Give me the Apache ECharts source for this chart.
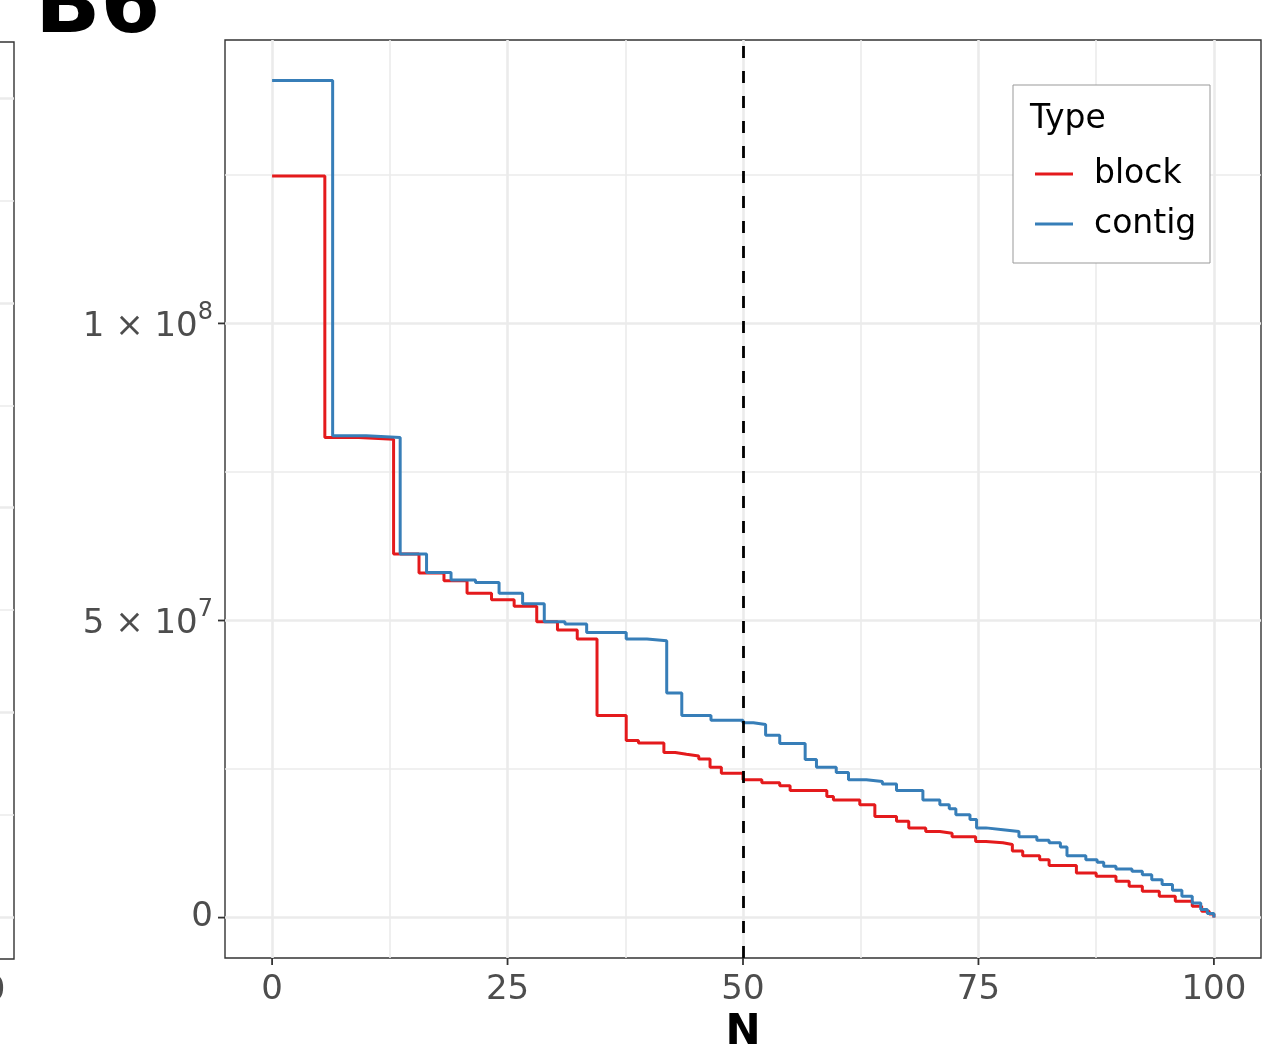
<!DOCTYPE html>
<html>
<head>
<meta charset="utf-8">
<script src="https://cdn.jsdelivr.net/npm/echarts@6/dist/echarts.min.js"></script>
<style>
  html, body { margin: 0; padding: 0; background: #ffffff; }
  #chart { width: 1285px; height: 1045px; }
</style>
</head>
<body>
<div id="chart"></div>
<script>
// Nx curves: each step starts at N (%) and holds the length (bp) until the next N
const blockN = [0, 5.6, 9.2, 12.9, 15.6, 18.25, 20.7, 23.3, 25.7, 28.1,
  30.3, 32.4, 34.5, 37.6, 38.9, 41.6, 42.8, 44.0, 45.3, 46.5,
  47.7, 50.0, 52.0, 53.9, 55.0, 58.9, 59.6, 62.4, 64.0, 66.3,
  67.6, 69.4, 70.9, 72.2, 74.7, 75.8, 77.6, 78.6, 79.7, 81.5,
  82.5, 85.4, 87.5, 89.6, 91.0, 92.4, 94.2, 95.9, 97.7, 98.7,
  99.5, 100];
const blockLen = [1.248e8, 8.08e7, 8.05e7, 6.12e7, 5.80e7, 5.67e7, 5.46e7, 5.35e7, 5.24e7, 4.98e7,
  4.84e7, 4.69e7, 3.40e7, 2.98e7, 2.94e7, 2.78e7, 2.75e7, 2.72e7, 2.67e7, 2.53e7,
  2.43e7, 2.32e7, 2.27e7, 2.22e7, 2.14e7, 2.04e7, 1.98e7, 1.90e7, 1.70e7, 1.62e7,
  1.51e7, 1.45e7, 1.42e7, 1.36e7, 1.28e7, 1.26e7, 1.23e7, 1.12e7, 1.04e7, 9.75e6,
  8.75e6, 7.52e6, 6.95e6, 6.10e6, 5.26e6, 4.42e6, 3.58e6, 2.74e6, 1.90e6, 1.06e6,
  0.59e6, 0];

const contigN = [0, 6.43, 10.0, 13.6, 16.4, 19.0, 21.6, 24.1, 26.6, 28.9,
  31.1, 33.4, 37.6, 39.8, 41.9, 43.5, 46.6, 50.0, 51.1, 52.4,
  53.9, 56.6, 57.8, 59.9, 61.2, 63.1, 64.8, 66.3, 69.1, 70.9,
  71.9, 72.6, 74.1, 74.8, 75.8, 77.6, 79.3, 81.2, 82.5, 83.7,
  84.4, 86.4, 87.6, 88.3, 89.6, 91.3, 92.4, 93.4, 94.5, 95.6,
  96.6, 97.7, 98.6, 99.3, 100];
const contigLen = [1.409e8, 8.11e7, 8.08e7, 6.12e7, 5.81e7, 5.68e7, 5.64e7, 5.46e7, 5.28e7, 4.98e7,
  4.94e7, 4.80e7, 4.69e7, 4.66e7, 3.78e7, 3.40e7, 3.32e7, 3.28e7, 3.25e7, 3.07e7,
  2.93e7, 2.66e7, 2.53e7, 2.44e7, 2.32e7, 2.29e7, 2.25e7, 2.14e7, 1.98e7, 1.90e7,
  1.83e7, 1.73e7, 1.65e7, 1.51e7, 1.48e7, 1.45e7, 1.36e7, 1.30e7, 1.26e7, 1.19e7,
  1.04e7, 9.75e6, 9.30e6, 8.63e6, 8.19e6, 7.79e6, 7.23e6, 6.39e6, 5.55e6, 4.59e6,
  3.58e6, 2.47e6, 1.35e6, 0.67e6, 0];

const seriesNames = ['block', 'contig'];
const seriesColors = ['#e41a1c', '#377eb8'];
const cutoffN = [50];

// axis ranges and breaks
const xRange = [-5, 105];
const yRange = [-6.8e6, 1.477e8];
const xTicks = [0, 25, 50, 75, 100];
const xMinor = [12.5, 37.5, 62.5, 87.5];
const yTicks = [0, 5e7, 1e8];
const yMinor = [2.5e7, 7.5e7, 1.25e8];

// neighbouring panel (only its right edge is on the page)
const sideXTicks = [0, 25, 50, 75, 100];
const sideYMajor = [0, 2, 4, 6, 8];
const sideYMinor = [1, 3, 5, 7];

const panelTag = 'B6';
const xTitle = 'N';
const legendTitle = 'Type';

const FONT = 'DejaVu Sans';
const GRID_COLOR = '#ebebeb';
const TICK_COLOR = '#333333';
const TICK_LEN = 7;

function zip(xs, ys) { return xs.map((x, i) => [x, ys[i]]); }

// 1 × 10^8 style tick labels
function sciLabel(v) {
  if (v === 0) return '0';
  const e = Math.floor(Math.log10(v) + 1e-9);
  const m = Math.round(v / Math.pow(10, e));
  return '{b|' + m + ' \u00d7 10}{s|' + e + '}';
}

function gridLines(key, major, minor) {
  return major.map(v => ({ [key]: v, lineStyle: { width: 2.6 } }))
    .concat(minor.map(v => ({ [key]: v, lineStyle: { width: 1.6 } })));
}

function gridMarkLine(data) {
  return {
    silent: true, z: 1, animation: false,
    symbol: ['none', 'none'],
    label: { show: false },
    emphasis: { disabled: true },
    lineStyle: { color: GRID_COLOR, type: 'solid' },
    data: data
  };
}

// outward tick marks, positioned through the axis scales
function tickSeries(values, vertical) {
  return {
    type: 'custom', xAxisIndex: 0, yAxisIndex: 0, silent: true, clip: false, z: 4,
    data: values.map(v => vertical ? [v, yRange[0]] : [xRange[0], v]),
    renderItem: function (params, api) {
      const p = api.coord([api.value(0), api.value(1)]);
      const shape = vertical
        ? { x1: p[0], y1: p[1], x2: p[0], y2: p[1] + TICK_LEN }
        : { x1: p[0] - TICK_LEN, y1: p[1], x2: p[0], y2: p[1] };
      return { type: 'line', shape: shape, style: { stroke: TICK_COLOR, lineWidth: 1.8 } };
    }
  };
}

const noLine = { show: false, onZero: false };
const labelStyle = { fontFamily: FONT, fontSize: 34, color: '#4d4d4d' };

const chart = echarts.init(document.getElementById('chart'), null, { renderer: 'canvas' });

const option = {
  animation: false,
  textStyle: { fontFamily: FONT },
  grid: [
    { left: 225, top: 40, width: 1036, height: 918, show: true, outerBoundsMode: 'none', containLabel: false,
      borderColor: '#333333', borderWidth: 1.4, backgroundColor: 'transparent' },
    { left: -971, top: 42, width: 985, height: 917, show: true, outerBoundsMode: 'none', containLabel: false,
      borderColor: '#333333', borderWidth: 1.4, backgroundColor: 'transparent' }
  ],
  xAxis: [
    { gridIndex: 0, type: 'value', min: xRange[0], max: xRange[1], position: 'bottom',
      axisLine: noLine, axisTick: { show: false },
      axisLabel: Object.assign({ customValues: xTicks, margin: 15 }, labelStyle),
      splitLine: { show: false },
      name: xTitle, nameLocation: 'middle', nameGap: 49,
      nameTextStyle: { fontFamily: FONT, fontSize: 42, fontWeight: 'bold', color: '#000000' } },
    { gridIndex: 1, type: 'value', min: 0, max: 104.34, interval: 25, position: 'bottom',
      axisLine: noLine, axisTick: { show: false },
      axisLabel: Object.assign({ customValues: sideXTicks, margin: 15 }, labelStyle),
      splitLine: { show: false } }
  ],
  yAxis: [
    { gridIndex: 0, type: 'value', min: yRange[0], max: yRange[1], position: 'left',
      axisLine: noLine, axisTick: { show: false },
      axisLabel: Object.assign({ customValues: yTicks, margin: 12, formatter: sciLabel,
        rich: {
          b: { fontFamily: FONT, fontSize: 34, color: '#4d4d4d', padding: [8, 0, 0, 0] },
          s: { fontFamily: FONT, fontSize: 24, color: '#4d4d4d', padding: [0, 0, 22, 0] }
        } }, labelStyle),
      splitLine: { show: false } },
    { gridIndex: 1, type: 'value', min: -0.41, max: 8.55, position: 'left',
      axisLine: noLine, axisTick: { show: false },
      axisLabel: { show: false }, splitLine: { show: false } }
  ],
  legend: {
    data: seriesNames,
    orient: 'vertical',
    left: 1035, top: 154,
    padding: 0,
    itemWidth: 54, itemHeight: 3, itemGap: 10,
    icon: 'path://M0,0H38V3H0Z M54,0L54,3',
    itemStyle: { borderWidth: 0 },
    selectedMode: false,
    textStyle: { fontFamily: FONT, fontSize: 33, color: '#000000', lineHeight: 40 },
    z: 6
  },
  graphic: [
    { type: 'rect', z: 5, shape: { x: 1013, y: 85, width: 197, height: 178 },
      style: { fill: '#ffffff', stroke: '#999999', lineWidth: 1 } },
    { type: 'text', z: 6, x: 1030, y: 119,
      style: { text: legendTitle, fontFamily: FONT, fontSize: 33, fill: '#000000',
        align: 'left', verticalAlign: 'middle' } },
    { type: 'text', z: 6, x: 35, y: 10,
      style: { text: panelTag, fontFamily: FONT, fontSize: 86, fontWeight: 'bold', fill: '#000000',
        align: 'left', verticalAlign: 'middle' } }
  ],
  series: [
    { type: 'line', name: '_grid', xAxisIndex: 0, yAxisIndex: 0, data: [], silent: true,
      markLine: gridMarkLine(gridLines('xAxis', xTicks, xMinor).concat(gridLines('yAxis', yTicks, yMinor))) },
    { type: 'line', name: '_sidegrid', xAxisIndex: 1, yAxisIndex: 1, data: [], silent: true,
      markLine: gridMarkLine(gridLines('yAxis', sideYMajor, sideYMinor)) },
    tickSeries(xTicks, true),
    tickSeries(yTicks, false),
    { type: 'line', name: seriesNames[0], xAxisIndex: 0, yAxisIndex: 0, step: 'end',
      data: zip(blockN, blockLen), showSymbol: false, symbol: 'none', z: 2,
      color: seriesColors[0], lineStyle: { width: 3, color: seriesColors[0] } },
    { type: 'line', name: seriesNames[1], xAxisIndex: 0, yAxisIndex: 0, step: 'end',
      data: zip(contigN, contigLen), showSymbol: false, symbol: 'none', z: 3,
      color: seriesColors[1], lineStyle: { width: 3, color: seriesColors[1] } },
    { type: 'line', name: '_cutoff', xAxisIndex: 0, yAxisIndex: 0, data: [], silent: true,
      markLine: {
        silent: true, z: 5, animation: false,
        symbol: ['none', 'none'], label: { show: false }, emphasis: { disabled: true },
        lineStyle: { color: '#000000', width: 2.8, type: [12, 13] },
        data: cutoffN.map(v => ({ xAxis: v }))
      } }
  ]
};

chart.setOption(option);
</script>
</body>
</html>
